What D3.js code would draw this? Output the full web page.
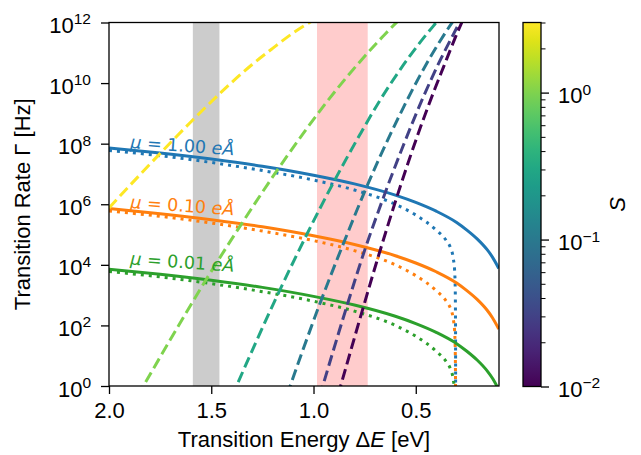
<!DOCTYPE html>
<html>
<head>
<meta charset="utf-8">
<script src="https://cdn.jsdelivr.net/npm/d3@7"></script>
<style>
  body { margin: 0; background: #fff; }
  text { font-family: "Liberation Sans", Arial, sans-serif; }
</style>
</head>
<body>
<div id="chart"></div>
<script>
// ---- data ----
// solid lines (transition rate vs energy) for three dipole moments
const energy = [2.0, 1.75, 1.5, 1.25, 1.0, 0.8, 0.6, 0.5, 0.4, 0.3, 0.25, 0.2, 0.15, 0.125, 0.094];
const rateMu100 = [7.2e7, 4.9e7, 3.1e7, 1.8e7, 9.1e6, 4.7e6, 2.0e6, 1.15e6, 5.9e5, 2.5e5, 1.4e5, 7.2e4, 3.1e4, 1.8e4, 7.6e3];
const rateMu010 = [7.2e5, 4.9e5, 3.1e5, 1.8e5, 9.1e4, 4.7e4, 2.0e4, 1.15e4, 5.9e3, 2.5e3, 1.4e3, 7.2e2, 3.1e2, 1.8e2, 7.6e1];
const rateMu001 = [7.2e3, 4.9e3, 3.1e3, 1.8e3, 9.1e2, 4.7e2, 2.0e2, 1.15e2, 59, 25, 14, 7.2, 3.1, 1.8, 0.76];

// dotted lines
const energyDotted = [2.0, 1.75, 1.5, 1.25, 1.0, 0.8, 0.6, 0.5, 0.4, 0.35, 0.33, 0.316, 0.31, 0.307, 0.3055, 0.305];
const rateDotMu100 = [6.0e7, 4.0e7, 2.4e7, 1.3e7, 6.3e6, 2.95e6, 1.0e6, 4.4e5, 1.4e5, 6.2e4, 3.6e4, 1.55e4, 6.5e3, 1.6e3, 80, 0.1];
const rateDotMu010 = [6.0e5, 4.0e5, 2.4e5, 1.3e5, 6.3e4, 2.95e4, 1.0e4, 4.4e3, 1.4e3, 6.2e2, 3.6e2, 1.55e2, 65, 16, 0.8, 0.01];
const rateDotMu001 = [6.0e3, 4.0e3, 2.4e3, 1.3e3, 6.3e2, 2.95e2, 1.0e2, 44, 14, 6.2, 3.6, 1.55, 0.65, 0.16, 0.01, 0.001];

const muLabels = ["1.00", "0.10", "0.01"];
const muColors = ["#1f77b4", "#ff7f0e", "#2ca02c"];

// dashed lines, one per Huang-Rhys factor S
const sValues = [3, 1, 0.3, 0.1, 0.03, 0.01];
const dashEnergy = [
  [2.0, 1.8, 1.6, 1.45, 1.3, 1.2, 1.1, 1.0, 0.95],
  [1.86, 1.7, 1.531, 1.351, 1.172, 1.042, 0.952, 0.773, 0.66, 0.585, 0.55],
  [1.40, 1.164, 1.033, 0.895, 0.773, 0.675, 0.577, 0.479, 0.406, 0.38],
  [1.13, 0.968, 0.838, 0.748, 0.675, 0.577, 0.479, 0.381, 0.324, 0.30],
  [0.97, 0.838, 0.748, 0.666, 0.561, 0.463, 0.381, 0.30, 0.28],
  [0.88, 0.756, 0.691, 0.610, 0.528, 0.446, 0.365, 0.292, 0.27]
];
const dashRate = [
  [7.6e5, 2.1e7, 5.2e8, 5.1e9, 4.1e10, 1.4e11, 4.5e11, 1.2e12, 1.9e12],
  [0.47, 34, 2.8e3, 2.3e5, 1.5e7, 2.6e8, 1.7e9, 5.1e10, 3.5e11, 1.15e12, 1.9e12],
  [0.44, 1.5e3, 1.0e5, 6.5e6, 2.0e8, 2.7e9, 2.75e10, 2.2e11, 8.9e11, 1.45e12],
  [0.5, 5.4e2, 9.3e4, 2.8e6, 3.7e7, 9.3e8, 1.8e10, 2.45e11, 9.5e11, 1.6e12],
  [0.45, 4.1e2, 3.3e4, 1.2e6, 8.7e7, 3.5e9, 5.6e10, 6.6e11, 1.2e12],
  [0.5, 4.1e2, 1.26e4, 7.4e5, 3.6e7, 1.3e9, 3.3e10, 5.5e11, 1.2e12]
];

// shaded energy windows
const grayBand = [1.59, 1.46];
const pinkBand = [0.983, 0.735];

const xTicks = [2.0, 1.5, 1.0, 0.5];
const yTickExp = [0, 2, 4, 6, 8, 10, 12];
const cbarExp = [-2, -1, 0];

// ---- layout ----
const width = 641, height = 455;
const plot = {left: 109, right: 499, top: 22.5, bottom: 386};
const cbar = {left: 523, right: 541, top: 22.5, bottom: 386.5};
const fontSize = 22;

const svg = d3.select("#chart").append("svg")
  .attr("width", width).attr("height", height);

const x = d3.scaleLinear().domain([2.0, 0.093]).range([plot.left, plot.right]);
const y = d3.scaleLog().domain([1, 1e12]).range([plot.bottom, plot.top]);
const sColor = d3.scaleSequentialLog(d3.interpolateViridis).domain([0.01, 3]);

svg.append("clipPath").attr("id", "clip")
  .append("rect")
  .attr("x", plot.left).attr("y", plot.top)
  .attr("width", plot.right - plot.left).attr("height", plot.bottom - plot.top);

const g = svg.append("g").attr("clip-path", "url(#clip)");

// bands
g.append("rect")
  .attr("x", x(grayBand[0])).attr("width", x(grayBand[1]) - x(grayBand[0]))
  .attr("y", plot.top).attr("height", plot.bottom - plot.top)
  .attr("fill", "#cccccc");
g.append("rect")
  .attr("x", x(pinkBand[0])).attr("width", x(pinkBand[1]) - x(pinkBand[0]))
  .attr("y", plot.top).attr("height", plot.bottom - plot.top)
  .attr("fill", "#ffcccc");

const line = d3.line()
  .x(d => x(d[0]))
  .y(d => y(d[1]))
  .curve(d3.curveMonotoneX);

const solidRates = [rateMu100, rateMu010, rateMu001];
const dotRates = [rateDotMu100, rateDotMu010, rateDotMu001];

solidRates.forEach((r, i) => {
  g.append("path")
    .datum(d3.zip(energyDotted, dotRates[i]))
    .attr("d", line)
    .attr("fill", "none")
    .attr("stroke", muColors[i])
    .attr("stroke-width", 3)
    .attr("stroke-dasharray", "3 5");
  g.append("path")
    .datum(d3.zip(energy, r))
    .attr("d", line)
    .attr("fill", "none")
    .attr("stroke", muColors[i])
    .attr("stroke-width", 3);
});

sValues.forEach((s, i) => {
  g.append("path")
    .datum(d3.zip(dashEnergy[i], dashRate[i]))
    .attr("d", line)
    .attr("fill", "none")
    .attr("stroke", sColor(s))
    .attr("stroke-width", 3)
    .attr("stroke-dasharray", "11 5");
});

// mu labels
const labelPos = [[130, 148], [130, 208], [130, 264.5]];
muLabels.forEach((m, i) => {
  const t = svg.append("text")
    .attr("transform", `translate(${labelPos[i][0]},${labelPos[i][1]}) rotate(4)`)
    .attr("fill", muColors[i])
    .style("font-family", "'DejaVu Sans', sans-serif")
    .style("font-size", "17.5px");
  t.append("tspan").style("font-style", "italic").text("μ");
  t.append("tspan").text(" = " + m + " ");
  t.append("tspan").style("font-style", "italic").text("eÅ");
});

// axes
const xAxis = svg.append("g")
  .attr("transform", `translate(0,${plot.bottom})`)
  .call(d3.axisBottom(x).tickValues(xTicks).tickFormat(d3.format(".1f")).tickSize(8).tickPadding(8));
xAxis.selectAll("text").style("font-size", fontSize + "px").attr("fill", "#000")
  .style("font-family", "'Liberation Sans', Arial, sans-serif");

const yAxis = svg.append("g")
  .attr("transform", `translate(${plot.left},0)`)
  .call(d3.axisLeft(y).tickValues(yTickExp.map(e => Math.pow(10, e))).tickSize(8).tickFormat(""));

yTickExp.forEach(e => {
  const t = svg.append("text")
    .attr("x", plot.left - 18).attr("y", y(Math.pow(10, e)) + 10.5)
    .attr("text-anchor", "end")
    .style("font-size", fontSize + "px");
  t.append("tspan").text("10");
  t.append("tspan").attr("dy", "-0.55em").style("font-size", "15.5px").text(e);
});

[xAxis, yAxis].forEach(a => {
  a.select(".domain").remove();
  a.selectAll("line").attr("stroke", "#000").attr("stroke-width", 1.3);
});

// frame
svg.append("rect")
  .attr("x", plot.left).attr("y", plot.top)
  .attr("width", plot.right - plot.left).attr("height", plot.bottom - plot.top)
  .attr("fill", "none").attr("stroke", "#000").attr("stroke-width", 1.3);

// axis titles
const xt = svg.append("text")
  .attr("x", (plot.left + plot.right) / 2).attr("y", 447)
  .attr("text-anchor", "middle").style("font-size", fontSize + "px");
xt.append("tspan").text("Transition Energy Δ");
xt.append("tspan").style("font-style", "italic").text("E");
xt.append("tspan").text(" [eV]");

svg.append("text")
  .attr("transform", `translate(30,${(plot.top + plot.bottom) / 2}) rotate(-90)`)
  .attr("text-anchor", "middle").style("font-size", fontSize + "px")
  .text("Transition Rate Γ [Hz]");

// colorbar
const cy = d3.scaleLog().domain([0.01, 3]).range([cbar.bottom, cbar.top]);
const defs = svg.append("defs");
const grad = defs.append("linearGradient").attr("id", "cgrad")
  .attr("x1", 0).attr("y1", 1).attr("x2", 0).attr("y2", 0);
d3.range(0, 1.0001, 0.05).forEach(t => {
  grad.append("stop").attr("offset", t).attr("stop-color", d3.interpolateViridis(t));
});
svg.append("rect")
  .attr("x", cbar.left).attr("y", cbar.top)
  .attr("width", cbar.right - cbar.left).attr("height", cbar.bottom - cbar.top)
  .attr("fill", "url(#cgrad)").attr("stroke", "#000").attr("stroke-width", 1.3);

const minorTicks = [];
[-2, -1, 0].forEach(e => {
  d3.range(2, 10).forEach(k => {
    const v = k * Math.pow(10, e);
    if (v <= 3) minorTicks.push(v);
  });
});
svg.append("g")
  .attr("transform", `translate(${cbar.right},0)`)
  .call(d3.axisRight(cy).tickValues(minorTicks).tickSize(4.5).tickFormat(""))
  .call(a => a.select(".domain").remove())
  .selectAll("line").attr("stroke", "#000").attr("stroke-width", 1);
svg.append("g")
  .attr("transform", `translate(${cbar.right},0)`)
  .call(d3.axisRight(cy).tickValues(cbarExp.map(e => Math.pow(10, e))).tickSize(8).tickFormat(""))
  .call(a => a.select(".domain").remove())
  .selectAll("line").attr("stroke", "#000").attr("stroke-width", 1.3);

cbarExp.forEach(e => {
  const t = svg.append("text")
    .attr("x", 558).attr("y", cy(Math.pow(10, e)) + 10.5)
    .style("font-size", fontSize + "px");
  t.append("tspan").text("10");
  t.append("tspan").attr("dy", "-0.55em").style("font-size", "15.5px").text(e === 0 ? "0" : "\u2212" + Math.abs(e));
});

svg.append("text")
  .attr("transform", `translate(625,${(cbar.top + cbar.bottom) / 2}) rotate(-90)`)
  .attr("text-anchor", "middle")
  .style("font-size", fontSize + "px").style("font-style", "italic")
  .text("S");
</script>
</body>
</html>
